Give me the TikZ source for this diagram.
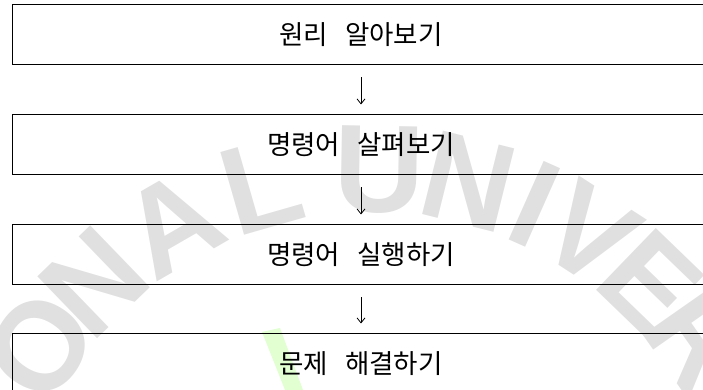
\documentclass[tikz,border=0pt]{standalone}
\usepackage{fontspec}
\newfontfamily\kr{Noto Sans CJK KR}
\newfontfamily\wmfont{Liberation Sans}
\usetikzlibrary{arrows.meta,calc}
\begin{document}
\begin{tikzpicture}[x=1pt,y=1pt,
  stepbox/.style={draw=black,line width=1pt,minimum width=698pt,minimum height=60pt,inner sep=0pt,
    font={\kr\fontsize{26.5}{26.5}\selectfont\spaceskip=17pt\relax}},
  flow/.style={line width=0.8pt,-{Straight Barb[length=5pt,width=8pt,line width=0.8pt]},shorten <=12pt,shorten >=10pt},
  wm/.style={text=black!12,font={\wmfont\bfseries\fontsize{125}{125}\selectfont},inner sep=0pt}]
\useasboundingbox (0,0) rectangle (703,390);
\clip (0,0) rectangle (703,390);
% watermark
\coordinate (C) at (372,-180);
\foreach \ch/\a in {O/146,N/134,A/120,L/106,U/89,N/76,I/66,V/57,E/46,R/35}{
  \node[wm,rotate=\a-90] at ($(C)+(\a:400)$) {\ch};
}
\fill[green!55!lime,opacity=0.18] (262,58) -- (280,62) -- (303,0) -- (285,0) -- cycle;
% boxes
\node[stepbox] (b1) at (361,355) {원리 알아보기};
\node[stepbox] (b2) at (361,245) {명령어 살펴보기};
\node[stepbox] (b3) at (361,135) {명령어 실행하기};
\node[stepbox] (b4) at (361,26) {문제 해결하기};
\draw[flow] (b1) -- (b2);
\draw[flow] (b2) -- (b3);
\draw[flow] (b3) -- (b4);
\end{tikzpicture}
\end{document}
